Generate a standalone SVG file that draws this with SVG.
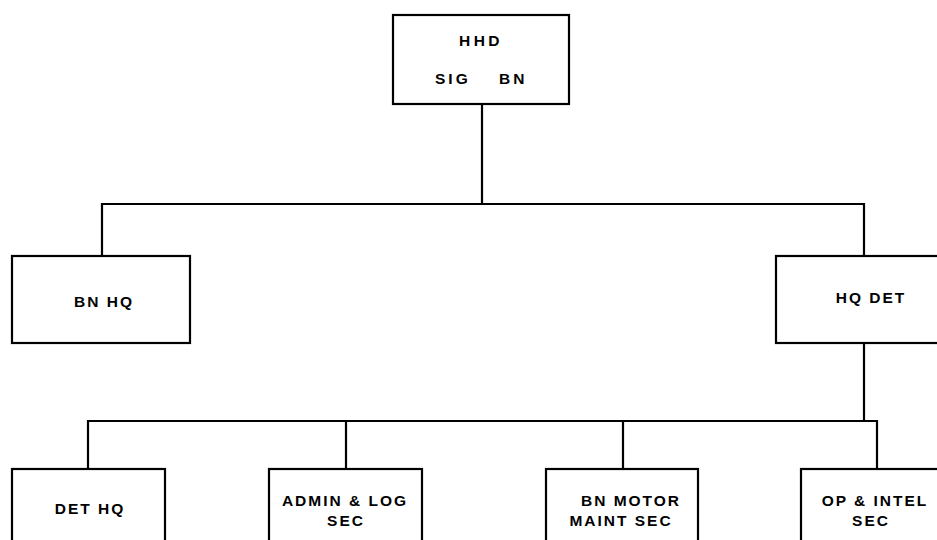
<svg xmlns="http://www.w3.org/2000/svg" width="937" height="540" viewBox="0 0 937 540">
<style>
.box{fill:#fff;stroke:#000;stroke-width:2.2}
.ln{fill:none;stroke:#000;stroke-width:2.2}
text{font-family:"Liberation Sans",Arial,sans-serif;font-weight:bold;font-size:15.5px;letter-spacing:2px;fill:#000}
.c{text-anchor:middle}
</style>
<rect width="937" height="540" fill="#fff"/>
<g id="connectors">
<path class="ln" d="M482,104 V204 M102,256 V204 H864 V256"/>
<path class="ln" d="M864,343 V421 M88,469 V421 H877 V469 M346,421 V469 M623,421 V469"/>
</g>
<g id="hhd">
<rect class="box" x="393" y="15" width="176" height="89"/>
<text class="c" x="481" y="46" style="letter-spacing:3.5px">HHD</text>
<text x="435" y="84" style="letter-spacing:3px">SIG</text>
<text x="499" y="84" style="letter-spacing:3px">BN</text>
</g>
<g id="bnhq">
<rect class="box" x="12" y="256" width="178" height="87"/>
<text class="c" x="104" y="307">BN HQ</text>
</g>
<g id="hqdet">
<rect class="box" x="776" y="256" width="178" height="87"/>
<text class="c" x="871" y="303">HQ DET</text>
</g>
<g id="dethq">
<rect class="box" x="12" y="469" width="153" height="90"/>
<text class="c" x="90" y="514">DET HQ</text>
</g>
<g id="adminlog">
<rect class="box" x="269" y="469" width="153" height="90"/>
<text class="c" x="345" y="506">ADMIN &amp; LOG</text>
<text class="c" x="346" y="526">SEC</text>
</g>
<g id="motor">
<rect class="box" x="546" y="469" width="152" height="90"/>
<text class="c" x="631" y="506">BN MOTOR</text>
<text class="c" x="621" y="526">MAINT SEC</text>
</g>
<g id="opintel">
<rect class="box" x="801" y="469" width="153" height="90"/>
<text class="c" x="875" y="506">OP &amp; INTEL</text>
<text class="c" x="871" y="526">SEC</text>
</g>
</svg>
